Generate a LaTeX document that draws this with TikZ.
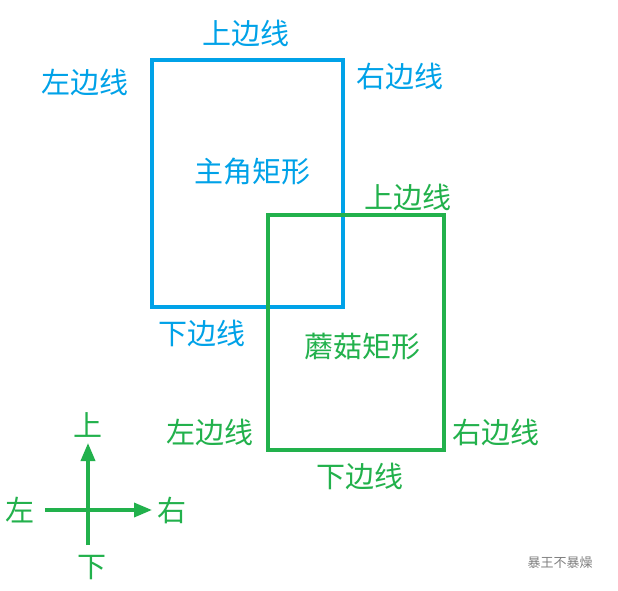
\documentclass[tikz,border=0pt]{standalone}
\usepackage{fontspec}
\usetikzlibrary{arrows.meta}
\newfontfamily\cjk{Noto Sans CJK SC}
\definecolor{bl}{RGB}{0,162,232}
\definecolor{gr}{RGB}{34,177,76}
\begin{document}
\begin{tikzpicture}[x=1pt,y=-1pt,
  lab/.style={font=\cjk\fontsize{29}{31}\selectfont,inner sep=0pt},
  bt/.style={lab,text=bl}, gt/.style={lab,text=gr},
  arr/.style={gr,line width=3.5pt,-{Triangle[length=18pt,width=14pt]}}]
\useasboundingbox (0,0) rectangle (618,590);
\fill[white] (0,0) rectangle (618,590);
\draw[bl,line width=4pt] (152,60) rectangle (343,307);
\draw[gr,line width=4pt] (268,215) rectangle (444,450);
\node[bt] (bu) at (246,33) {上边线};
\node[bt] (bl) at (85,82) {左边线};
\node[bt] (br) at (400,76) {右边线};
\node[bt] (bm) at (252,172) {主角矩形};
\node[bt] (bd) at (202,333) {下边线};
\node[gt] (gu) at (408,197) {上边线};
\node[gt] (gm) at (362,347) {蘑菇矩形};
\node[gt] (gl) at (210,432) {左边线};
\node[gt] (gr2) at (496,432) {右边线};
\node[gt] (gd) at (360,476) {下边线};
\coordinate (ct) at (88,443);
\coordinate (cr) at (152,510);
\coordinate (cb) at (88,545);
\coordinate (cl) at (45,510);
\draw[arr] (cb) -- (ct);
\draw[arr] (cl) -- (cr);
\node[gt] (u) at (88,425) {上};
\node[gt] (l) at (20,510) {左};
\node[gt] (r) at (172,510) {右};
\node[gt] (d) at (92,568) {下};
\node[font=\cjk\fontsize{13}{15}\selectfont,text=gray] (wm) at (560,563) {暴王不暴燥};
\end{tikzpicture}
\end{document}
